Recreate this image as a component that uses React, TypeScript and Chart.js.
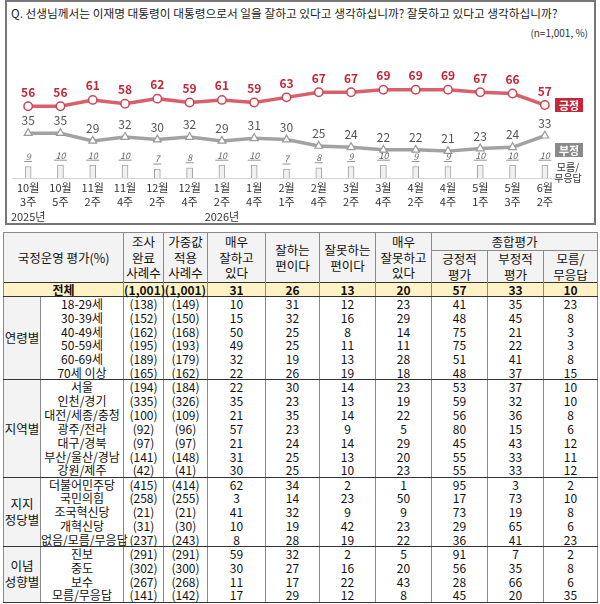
import React, { useEffect, useRef } from 'react';
import { Chart, registerables } from 'chart.js';

Chart.register(...registerables);

const FONT = '"Noto Sans CJK KR", "Noto Sans", sans-serif';

// ---- chart data ----
const weeks = [
  ['10월', '3주'], ['10월', '5주'], ['11월', '2주'], ['11월', '4주'], ['12월', '2주'], ['12월', '4주'],
  ['1월', '2주'], ['1월', '4주'], ['2월', '1주'], ['2월', '4주'], ['3월', '2주'], ['3월', '4주'],
  ['4월', '2주'], ['4월', '4주'], ['5월', '1주'], ['5월', '3주'], ['6월', '2주'],
];
const positive = [56, 56, 61, 58, 62, 59, 61, 59, 63, 67, 67, 69, 69, 69, 67, 66, 57];
const negative = [35, 35, 29, 32, 30, 32, 29, 31, 30, 25, 24, 22, 22, 21, 23, 24, 33];
const dontKnow = [9, 10, 10, 10, 7, 8, 10, 10, 7, 8, 9, 10, 9, 9, 10, 10, 10];
const yearIndexes = [0, 6];
const yearTexts = ['2025년', '2026년'];

const titleText = 'Q. 선생님께서는 이재명 대통령이 대통령으로서 일을 잘하고 있다고 생각하십니까? 잘못하고 있다고 생각하십니까?';
const sampleNote = '(n=1,001, %)';

// ---- table data ----
const totalRow = ['(1,001)', '(1,001)', '31', '26', '13', '20', '57', '33', '10'];

const ageLabels = ['18-29세', '30-39세', '40-49세', '50-59세', '60-69세', '70세 이상'];
const ageRows = [
  ['(138)', '(149)', '10', '31', '12', '23', '41', '35', '23'],
  ['(152)', '(150)', '15', '32', '16', '29', '48', '45', '8'],
  ['(162)', '(168)', '50', '25', '8', '14', '75', '21', '3'],
  ['(195)', '(193)', '49', '25', '11', '11', '75', '22', '3'],
  ['(189)', '(179)', '32', '19', '13', '28', '51', '41', '8'],
  ['(165)', '(162)', '22', '26', '19', '18', '48', '37', '15'],
];
const regionLabels = ['서울', '인천/경기', '대전/세종/충청', '광주/전라', '대구/경북', '부산/울산/경남', '강원/제주'];
const regionRows = [
  ['(194)', '(184)', '22', '30', '14', '23', '53', '37', '10'],
  ['(335)', '(326)', '35', '23', '13', '19', '59', '32', '10'],
  ['(100)', '(109)', '21', '35', '14', '22', '56', '36', '8'],
  ['(92)', '(96)', '57', '23', '9', '5', '80', '15', '6'],
  ['(97)', '(97)', '21', '24', '14', '29', '45', '43', '12'],
  ['(141)', '(148)', '31', '25', '13', '20', '55', '33', '11'],
  ['(42)', '(41)', '30', '25', '10', '23', '55', '33', '12'],
];
const partyLabels = ['더불어민주당', '국민의힘', '조국혁신당', '개혁신당', '없음/모름/무응답'];
const partyRows = [
  ['(415)', '(414)', '62', '34', '2', '1', '95', '3', '2'],
  ['(258)', '(255)', '3', '14', '23', '50', '17', '73', '10'],
  ['(21)', '(21)', '41', '32', '9', '9', '73', '19', '8'],
  ['(31)', '(30)', '10', '19', '42', '23', '29', '65', '6'],
  ['(237)', '(243)', '8', '28', '19', '22', '36', '41', '23'],
];
const ideologyLabels = ['진보', '중도', '보수', '모름/무응답'];
const ideologyRows = [
  ['(291)', '(291)', '59', '32', '2', '5', '91', '7', '2'],
  ['(302)', '(300)', '30', '27', '16', '20', '56', '35', '8'],
  ['(267)', '(268)', '11', '17', '22', '43', '28', '66', '6'],
  ['(141)', '(142)', '17', '29', '12', '8', '45', '20', '35'],
];

const groups = [
  { name: ['연령별'], labels: ageLabels, rows: ageRows },
  { name: ['지역별'], labels: regionLabels, rows: regionRows },
  { name: ['지지', '정당별'], labels: partyLabels, rows: partyRows },
  { name: ['이념', '성향별'], labels: ideologyLabels, rows: ideologyRows },
];

const colWidths = [37, 83, 40, 44, 58, 54, 56, 56, 56, 56, 54];

const valueLabelPlugin = {
  id: 'valueLabels',
  afterDatasetsDraw(chart: any) {
    const { ctx } = chart;
    ctx.save();
    ctx.textAlign = 'center';
    ctx.textBaseline = 'middle';

    const pm = chart.getDatasetMeta(0);
    ctx.font = `bold 12px ${FONT}`;
    ctx.fillStyle = '#c4263a';
    pm.data.forEach((el: any, i: number) => ctx.fillText(String(positive[i]), el.x, el.y - 14));

    const nm = chart.getDatasetMeta(1);
    ctx.font = `12px ${FONT}`;
    ctx.fillStyle = '#555';
    nm.data.forEach((el: any, i: number) => ctx.fillText(String(negative[i]), el.x, el.y - 12.5));

    const bm = chart.getDatasetMeta(2);
    ctx.font = `italic 9px ${FONT}`;
    ctx.fillStyle = '#666';
    ctx.strokeStyle = '#777';
    ctx.lineWidth = 0.8;
    bm.data.forEach((el: any, i: number) => {
      const t = String(dontKnow[i]);
      const y = el.y - 10;
      ctx.fillText(t, el.x, y);
      const w = ctx.measureText(t).width;
      ctx.beginPath();
      ctx.moveTo(el.x - w / 2 - 1.5, y + 5);
      ctx.lineTo(el.x + w / 2 + 1.5, y + 5);
      ctx.stroke();
    });

    const xs = chart.scales.x;
    ctx.font = `11px ${FONT}`;
    ctx.fillStyle = '#333';
    yearIndexes.forEach((idx, k) => ctx.fillText(yearTexts[k], xs.getPixelForValue(idx), chart.chartArea.bottom + 39));
    ctx.restore();
  },
};

const cellBase: React.CSSProperties = {
  padding: 0,
  textAlign: 'center',
  whiteSpace: 'nowrap',
  borderLeft: '1px solid #8a8a8a',
  borderRight: '1px solid #8a8a8a',
};

export default function App() {
  const canvasRef = useRef<HTMLCanvasElement>(null);

  useEffect(() => {
    const chart = new Chart(canvasRef.current as HTMLCanvasElement, {
      type: 'bar',
      data: {
        labels: weeks as any,
        datasets: [
          {
            type: 'line',
            label: '긍정',
            data: positive,
            borderColor: '#d8606c',
            borderWidth: 3.5,
            pointStyle: 'circle',
            pointRadius: 4.2,
            pointBorderWidth: 1.5,
            pointBackgroundColor: '#fff',
            pointBorderColor: '#cc4555',
            tension: 0,
            order: 1,
          } as any,
          {
            type: 'line',
            label: '부정',
            data: negative,
            borderColor: '#a2a2a2',
            borderWidth: 3.5,
            pointStyle: 'triangle',
            pointRadius: 4.5,
            pointBorderWidth: 1.2,
            pointBackgroundColor: '#fff',
            pointBorderColor: '#999',
            tension: 0,
            order: 2,
          } as any,
          {
            type: 'bar',
            label: '모름/무응답',
            data: dontKnow,
            backgroundColor: '#f1f1f1',
            borderColor: '#a0a0a0',
            borderWidth: 1,
            barThickness: 6,
            order: 3,
          } as any,
        ],
      },
      options: {
        responsive: false,
        animation: false,
        layout: { padding: { left: 12, right: 39, top: 10, bottom: 0 } },
        plugins: { legend: { display: false }, tooltip: { enabled: false } },
        scales: {
          x: {
            grid: { display: false, drawTicks: false },
            border: { display: true, color: '#d6d6d6', width: 1 },
            ticks: {
              font: { family: FONT, size: 11, lineHeight: 1.27 },
              color: '#333',
              padding: 3,
              maxRotation: 0,
              autoSkip: false,
            },
            afterFit: (s: any) => {
              s.height = 47;
            },
          },
          y: { display: false, min: 0, max: 100 },
        },
      },
      plugins: [valueLabelPlugin],
    });
    return () => chart.destroy();
  }, []);

  const headerCell: React.CSSProperties = {
    ...cellBase,
    background: '#f3f3f3',
    fontWeight: 'normal',
    lineHeight: '15.5px',
    fontSize: 12.5,
    verticalAlign: 'middle',
    borderTop: '1px solid #8a8a8a',
  };

  const rowH = 13.9;

  return (
    <div
      style={{
        position: 'absolute',
        left: 0,
        top: 0,
        width: 600,
        height: 604,
        background: '#fff',
        fontFamily: FONT,
        color: '#111',
        overflow: 'hidden',
      }}
    >
      <div
        style={{
          position: 'absolute',
          left: 5,
          top: 0,
          width: 591,
          height: 225,
          border: '2px solid #777',
          boxSizing: 'border-box',
        }}
      />
      <div style={{ position: 'absolute', left: 11, top: 5, fontSize: 11.7, lineHeight: '16px', color: '#222', whiteSpace: 'nowrap' }}>
        {titleText}
      </div>
      <div style={{ position: 'absolute', right: 12, top: 26, fontSize: 10, lineHeight: '14px', color: '#333', whiteSpace: 'nowrap' }}>
        {sampleNote}
      </div>
      <canvas ref={canvasRef} width={600} height={185} style={{ position: 'absolute', left: 0, top: 40, width: 600, height: 185 }} />
      <div
        style={{
          position: 'absolute', left: 555, top: 98, width: 28, height: 14, background: '#c4263a', color: '#fff',
          fontSize: 11, fontWeight: 'bold', lineHeight: '14px', textAlign: 'center',
        }}
      >
        긍정
      </div>
      <div
        style={{
          position: 'absolute', left: 555, top: 143, width: 28, height: 14, background: '#8a8a8a', color: '#fff',
          fontSize: 11, fontWeight: 'bold', lineHeight: '14px', textAlign: 'center',
        }}
      >
        부정
      </div>
      <div
        style={{
          position: 'absolute', left: 550, top: 161, width: 36, fontSize: 10, lineHeight: '11px', textAlign: 'center', color: '#333',
        }}
      >
        모름/
        <br />
        무응답
      </div>

      <table
        style={{
          position: 'absolute',
          left: 3,
          top: 232,
          width: 594,
          borderCollapse: 'collapse',
          tableLayout: 'fixed',
          fontSize: 12,
          color: '#111',
        }}
      >
        <colgroup>
          {colWidths.map((w, i) => (
            <col key={i} style={{ width: w }} />
          ))}
        </colgroup>
        <thead>
          <tr style={{ height: 18 }}>
            <th colSpan={2} rowSpan={2} style={headerCell}>국정운영 평가(%)</th>
            <th rowSpan={2} style={headerCell}>조사<br />완료<br />사례수</th>
            <th rowSpan={2} style={headerCell}>가중값<br />적용<br />사례수</th>
            <th rowSpan={2} style={headerCell}>매우<br />잘하고<br />있다</th>
            <th rowSpan={2} style={headerCell}>잘하는<br />편이다</th>
            <th rowSpan={2} style={headerCell}>잘못하는<br />편이다</th>
            <th rowSpan={2} style={headerCell}>매우<br />잘못하고<br />있다</th>
            <th colSpan={3} style={{ ...headerCell, borderBottom: '1px solid #8a8a8a', lineHeight: '17px' }}>종합평가</th>
          </tr>
          <tr style={{ height: 31 }}>
            <th style={headerCell}>긍정적<br />평가</th>
            <th style={headerCell}>부정적<br />평가</th>
            <th style={headerCell}>모름/<br />무응답</th>
          </tr>
        </thead>
        <tbody>
          <tr style={{ height: 14, background: '#fff3c6', fontWeight: 'bold' }}>
            <td colSpan={2} style={{ ...cellBase, lineHeight: '13px', borderTop: '1px solid #333', borderBottom: '1px solid #333' }}>전체</td>
            {totalRow.map((v, i) => (
              <td key={i} style={{ ...cellBase, lineHeight: '13px', borderTop: '1px solid #333', borderBottom: '1px solid #333' }}>{v}</td>
            ))}
          </tr>
          {groups.map((g, gi) =>
            g.labels.map((lab, ri) => {
              const top = ri === 0 ? '1px solid #333' : 'none';
              const bottom = ri === g.labels.length - 1 ? '1px solid #333' : 'none';
              const c: React.CSSProperties = { ...cellBase, lineHeight: `${rowH - 0.5}px`, borderTop: top, borderBottom: bottom };
              return (
                <tr key={`${gi}-${ri}`} style={{ height: rowH }}>
                  {ri === 0 && (
                    <td
                      rowSpan={g.labels.length}
                      style={{
                        ...cellBase,
                        background: '#f3f3f3',
                        fontSize: 12.5,
                        lineHeight: '16px',
                        verticalAlign: 'middle',
                        borderTop: '1px solid #333',
                        borderBottom: '1px solid #333',
                      }}
                    >
                      {g.name.map((n, k) => (
                        <div key={k}>{n}</div>
                      ))}
                    </td>
                  )}
                  <td style={c}>{lab}</td>
                  {g.rows[ri].map((v, k) => (
                    <td key={k} style={c}>{v}</td>
                  ))}
                </tr>
              );
            })
          )}
        </tbody>
      </table>
    </div>
  );
}
